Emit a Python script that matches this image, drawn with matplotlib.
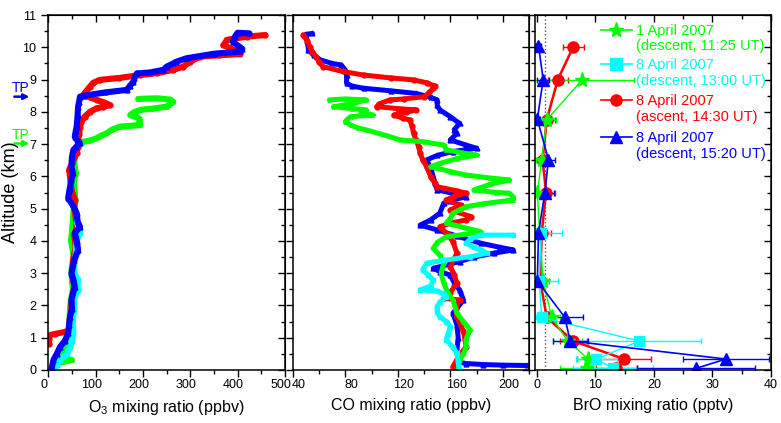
import matplotlib.pyplot as plt
from matplotlib.ticker import MultipleLocator, NullFormatter
from matplotlib.lines import Line2D
import matplotlib.transforms as mtransforms

plt.rcParams['font.family'] = ['Liberation Sans', 'DejaVu Sans']
plt.rcParams['mathtext.fontset'] = 'custom'
plt.rcParams['mathtext.rm'] = 'Liberation Sans'
plt.rcParams['mathtext.it'] = 'Liberation Sans:italic'

GREEN, CYAN, RED, BLUE = '#00ff00', '#00ffff', '#ff0000', '#0000ff'

# ---- O3 profiles (altitude km, ozone ppbv) ----
o3_green_alt = [8.40, 8.42, 8.38, 8.31, 8.22, 8.16, 8.10, 8.06, 7.98, 7.90, 7.82, 7.75, 7.65, 7.59,
                7.54, 7.45, 7.33, 7.25, 7.18, 7.10, 7.07, 6.98, 6.92, 6.70, 6.40, 6.10, 5.80, 5.50,
                5.20, 4.90, 4.60, 4.30, 4.00, 3.70, 3.40, 3.10, 2.80, 2.50, 2.20, 1.90, 1.60, 1.30,
                1.10, 0.90, 0.72, 0.55, 0.42, 0.35, 0.31, 0.27, 0.20, 0.10, 0.02]
o3_green_val = [190, 230, 258, 264, 255, 250, 220, 194, 180, 173, 190, 194, 192, 194,
                151, 135, 123, 110, 102, 85, 74, 65, 60, 57, 55, 58, 54, 56,
                57, 53, 52, 50, 48, 52, 54, 49, 50, 52, 48, 46, 45, 46,
                48, 42, 40, 30, 24, 32, 50, 36, 16, 11, 6]

o3_cyan_alt = [4.60, 4.40, 4.24, 4.00, 3.60, 3.30, 3.00, 2.80, 2.48, 2.20, 1.90, 1.60, 1.30, 1.14,
               0.90, 0.72, 0.50, 0.30, 0.15, 0.05]
o3_cyan_val = [60, 64, 66, 60, 58, 55, 55, 62, 62, 55, 55, 52, 52, 53,
               50, 46, 40, 25, 18, 14]

o3_red_alt = [10.38, 10.33, 10.25, 10.23, 10.10, 10.07, 9.90, 9.79, 9.75, 9.71, 9.55, 9.40, 9.30,
              9.20, 9.14, 9.05, 8.99, 8.90, 8.78, 8.60, 8.52, 8.45, 8.37, 8.28, 8.21, 8.15, 8.11,
              8.00, 7.85, 7.70, 7.54, 7.30, 7.13, 6.90, 6.72, 6.40, 6.20, 5.99, 5.58, 5.27, 5.00,
              4.70, 4.40, 4.20, 3.80, 3.40, 3.00, 2.60, 2.20, 1.80, 1.50, 1.25, 1.18, 1.12, 1.08,
              0.95, 0.82]
o3_red_val = [458, 420, 385, 377, 372, 370, 395, 405, 360, 320, 300, 285, 264,
              230, 194, 150, 109, 95, 88, 78, 74, 88, 102, 120, 130, 115, 102,
              88, 77, 70, 67, 65, 63, 62, 60, 50, 44, 46, 49, 56, 55,
              58, 60, 55, 58, 52, 50, 55, 50, 48, 45, 48, 35, 15, 2,
              1, 2]

o3_blue_alt = [10.43, 10.45, 10.35, 10.17, 9.95, 9.87, 9.80, 9.66, 9.55, 9.50, 9.40, 9.30, 9.22,
               9.19, 9.05, 8.93, 8.80, 8.68, 8.60, 8.50, 8.47, 8.30, 8.16, 7.90, 7.54, 7.40, 7.23,
               7.10, 7.02, 6.90, 6.82, 6.60, 6.30, 6.10, 5.89, 5.60, 5.32, 5.10, 4.86, 4.60, 4.44,
               4.24, 4.00, 3.72, 3.40, 3.00, 2.80, 2.58, 2.17, 1.90, 1.65, 1.40, 1.14, 0.90, 0.72,
               0.50, 0.31, 0.05]
o3_blue_val = [425, 400, 395, 390, 410, 405, 350, 292, 270, 264, 250, 243, 215,
               187, 182, 180, 172, 166, 120, 75, 67, 65, 63, 62, 60, 58, 56,
               62, 67, 58, 53, 50, 49, 52, 49, 45, 42, 52, 60, 62, 67,
               56, 60, 63, 55, 49, 53, 56, 49, 50, 46, 44, 42, 35, 25,
               18, 11, 7]

# ---- CO profiles (altitude km, CO ppbv) ----
co_blue_alt = [10.43, 10.40, 10.20, 9.92, 9.75, 9.61, 9.50, 9.45, 9.30, 9.14, 8.89, 8.80, 8.73,
               8.65, 8.57, 8.45, 8.37, 8.20, 8.06, 7.85, 7.64, 7.45, 7.33, 7.13, 6.97, 6.87, 6.77,
               6.65, 6.51, 6.25, 5.99, 5.80, 5.58, 5.45, 5.37, 5.25, 5.17, 4.86, 4.65, 4.49, 4.34,
               4.15, 3.93, 3.80, 3.72, 3.62, 3.50, 3.36, 3.15, 3.05, 2.94, 2.70, 2.48, 2.17, 1.76,
               1.40, 1.00, 0.60, 0.25, 0.20, 0.17, 0.15, 0.14]
co_blue_val = [55, 50, 51, 52, 56, 61, 70, 77, 80, 81, 81, 85, 94,
               115, 134, 145, 150, 150, 152, 160, 167, 163, 165, 160, 172, 180, 162,
               150, 142, 145, 147, 148, 150, 165, 172, 160, 155, 152, 145, 137, 150,
               165, 183, 198, 208, 193, 178, 167, 147, 152, 160, 163, 167, 170, 162,
               165, 166, 165, 166, 172, 185, 200, 218]

co_red_alt = [10.38, 10.20, 10.02, 9.85, 9.71, 9.55, 9.40, 9.25, 9.14, 9.05, 8.99, 8.90, 8.80,
              8.73, 8.60, 8.47, 8.40, 8.37, 8.25, 8.16, 8.10, 8.06, 7.98, 7.90, 7.80, 7.75, 7.55,
              7.33, 7.13, 6.90, 6.72, 6.51, 6.30, 5.99, 5.80, 5.68, 5.55, 5.48, 5.38, 5.27, 5.11,
              4.96, 4.75, 4.65, 4.55, 4.44, 4.20, 3.98, 3.62, 3.20, 2.95, 2.69, 2.40, 2.22, 2.17,
              1.90, 1.65, 1.20, 0.72, 0.40, 0.10]
co_red_val = [48, 51, 53, 55, 58, 60, 63, 78, 94, 115, 132, 142, 148,
              147, 144, 140, 125, 114, 106, 104, 120, 134, 126, 117, 124, 129, 131,
              132, 134, 136, 137, 139, 142, 145, 148, 150, 165, 172, 163, 157, 168,
              160, 176, 172, 160, 152, 158, 162, 165, 160, 163, 165, 160, 155, 167,
              164, 165, 170, 172, 166, 162]

co_green_alt = [8.37, 8.40, 8.37, 8.25, 8.16, 8.10, 8.06, 7.95, 7.90, 7.85, 7.70, 7.59, 7.50,
                7.44, 7.30, 7.13, 7.07, 6.97, 6.82, 6.72, 6.66, 6.55, 6.40, 6.30, 6.15, 6.04, 5.95,
                5.89, 5.75, 5.58, 5.50, 5.48, 5.35, 5.27, 5.15, 5.06, 4.96, 4.86, 4.70, 4.55, 4.40,
                4.29, 4.20, 4.13, 3.95, 3.77, 3.55, 3.31, 3.00, 2.69, 2.40, 2.17, 1.76, 1.50, 1.24,
                0.95, 0.72, 0.50, 0.31, 0.05]
co_green_val = [68, 80, 96, 85, 71, 85, 96, 92, 101, 84, 80, 84, 90,
                96, 108, 122, 140, 155, 157, 170, 180, 165, 152, 145, 160, 172, 190,
                205, 190, 178, 195, 205, 208, 208, 185, 172, 167, 162, 160, 157, 172,
                183, 170, 157, 150, 147, 152, 155, 153, 155, 158, 162, 165, 170, 175,
                172, 172, 170, 167, 166]

co_cyan_alt = [4.18, 4.18, 4.05, 3.93, 3.80, 3.72, 3.62, 3.51, 3.40, 3.31, 3.10, 2.95, 2.79,
               2.60, 2.48, 2.45, 2.35, 2.27, 2.10, 1.96, 1.80, 1.65, 1.50, 1.34, 1.10, 0.93, 0.70,
               0.52, 0.25, 0.00]
co_cyan_val = [208, 183, 175, 172, 178, 183, 188, 175, 155, 142, 139, 143, 147,
               145, 137, 150, 155, 157, 152, 150, 150, 152, 157, 160, 158, 157, 162,
               165, 166, 167]

# ---- BrO retrievals (altitude km, BrO pptv, 1-sigma pptv) ----
bro_green_alt = [9.0, 7.75, 6.5, 5.5, 4.26, 2.76, 1.63, 0.9, 0.34, 0.05]
bro_green_val = [7.8, 1.7, 0.85, 0.1, 0.5, 1.1, 2.55, 5.3, 8.8, 8.5]
bro_green_err = [8.8, 1.6, 1.0, 1.0, 1.0, 1.0, 1.5, 2.5, 2.0, 4.5]

bro_cyan_alt = [4.26, 2.76, 1.63, 0.9, 0.34, 0.05]
bro_cyan_val = [0.8, 0.4, 0.85, 17.5, 10.2, 13.0]
bro_cyan_err = [3.5, 3.3, 1.0, 10.6, 3.5, 6.8]

bro_red_alt = [10.0, 9.0, 7.75, 6.5, 5.5, 4.26, 2.76, 1.63, 0.9, 0.34, 0.05]
bro_red_val = [6.2, 3.6, 1.7, 1.0, 1.6, 0.85, 0.6, 1.7, 6.2, 14.9, 13.6]
bro_red_err = [1.8, 1.7, 1.5, 1.0, 1.5, 1.5, 1.0, 1.3, 2.3, 4.6, 3.5]

bro_blue_alt = [10.05, 9.0, 7.77, 6.52, 5.5, 4.26, 2.76, 1.63, 0.9, 0.34, 0.05]
bro_blue_val = [0.3, 1.1, 0.1, 2.0, 1.4, 0.3, 0.1, 4.8, 5.7, 32.3, 27.2]
bro_blue_err = [0.5, 1.0, 0.5, 1.2, 1.5, 1.0, 1.0, 3.1, 3.0, 7.3, 10.1]

bro_detection_limit = 1.4

legend_labels = ['1 April 2007\n(descent, 11:25 UT)',
                 '8 April 2007\n(descent, 13:00 UT)',
                 '8 April 2007\n(ascent, 14:30 UT)',
                 '8 April 2007\n(descent, 15:20 UT)']
legend_colors = [GREEN, CYAN, RED, BLUE]
legend_markers = ['*', 's', 'o', '^']

tp_alt = [8.47, 7.02]
tp_colors = [BLUE, GREEN]


def style_axis(ax, xlim, xmajor, xminor, ylabels=True):
    ax.set_xlim(*xlim)
    ax.set_ylim(0, 11)
    ax.xaxis.set_major_locator(MultipleLocator(xmajor))
    ax.xaxis.set_minor_locator(MultipleLocator(xminor))
    ax.yaxis.set_major_locator(MultipleLocator(1))
    ax.yaxis.set_minor_locator(MultipleLocator(0.5))
    ax.tick_params(which='major', direction='out', length=5, width=1, labelsize=9)
    ax.tick_params(which='minor', direction='out', length=3, width=1)
    ax.tick_params(axis='x', which='major', pad=1.5)
    if not ylabels:
        ax.yaxis.set_major_formatter(NullFormatter())
    for s in ax.spines.values():
        s.set_linewidth(1.1)
    # inward ticks on the top and right edges
    top = ax.secondary_xaxis('top')
    top.xaxis.set_major_locator(MultipleLocator(xmajor))
    top.xaxis.set_minor_locator(MultipleLocator(xminor))
    top.tick_params(which='major', direction='in', length=5, width=1, labeltop=False)
    top.tick_params(which='minor', direction='in', length=3, width=1)
    right = ax.secondary_yaxis('right')
    right.yaxis.set_major_locator(MultipleLocator(1))
    right.yaxis.set_minor_locator(MultipleLocator(0.5))
    right.tick_params(which='major', direction='in', length=5, width=1, labelright=False)
    right.tick_params(which='minor', direction='in', length=3, width=1)


def shift_xticklabels(ax, dx_px):
    offset = mtransforms.ScaledTranslation(dx_px / fig.dpi, 0, fig.dpi_scale_trans)
    for lab in ax.xaxis.get_majorticklabels():
        lab.set_transform(lab.get_transform() + offset)


fig = plt.figure(figsize=(7.81, 4.23), dpi=100)
ax1 = fig.add_axes([0.0618, 0.1253, 0.3031, 0.8392])
ax2 = fig.add_axes([0.3748, 0.1253, 0.3027, 0.8392])
ax3 = fig.add_axes([0.6850, 0.1253, 0.3022, 0.8392])

prof_kw = dict(lw=4.4, ms=3.5, solid_joinstyle='round', solid_capstyle='round')

# ozone
ax1.plot(o3_green_val, o3_green_alt, color=GREEN, marker='*', **prof_kw)
ax1.plot(o3_red_val, o3_red_alt, color=RED, marker='o', **prof_kw)
ax1.plot(o3_cyan_val, o3_cyan_alt, color=CYAN, marker='s', **prof_kw)
ax1.plot(o3_blue_val, o3_blue_alt, color=BLUE, marker='^', **prof_kw)
style_axis(ax1, (0, 500), 100, 50)
shift_xticklabels(ax1, -4)
ax1.set_xlabel('O$_3$ mixing ratio (ppbv)', fontsize=11.5, labelpad=5)
ax1.set_ylabel('Altitude (km)', fontsize=13)
ax1.yaxis.set_label_coords(-0.125, 0.5)

# tropopause markers left of the altitude axis
trans = mtransforms.blended_transform_factory(ax1.transAxes, ax1.transData)
for alt, c in zip(tp_alt, tp_colors):
    ax1.annotate('', xy=(-0.068, alt), xytext=(-0.155, alt), xycoords=trans, textcoords=trans,
                 arrowprops=dict(arrowstyle='-|>', color=c, lw=1.8, mutation_scale=8),
                 annotation_clip=False)
    ax1.text(-0.116, alt + 0.27, 'TP', color=c, fontsize=10, ha='center', va='center',
             transform=trans)

# carbon monoxide
co_kw = dict(prof_kw, lw=3.6)
ax2.plot(co_blue_val, co_blue_alt, color=BLUE, marker='^', **co_kw)
ax2.plot(co_red_val, co_red_alt, color=RED, marker='o', **co_kw)
ax2.plot(co_green_val, co_green_alt, color=GREEN, marker='*', **co_kw)
ax2.plot(co_cyan_val, co_cyan_alt, color=CYAN, marker='s', **co_kw)
style_axis(ax2, (40, 220), 40, 20, ylabels=False)
shift_xticklabels(ax2, 6)
ax2.set_xlabel('CO mixing ratio (ppbv)', fontsize=11.5, labelpad=5)

# BrO
ax3.axvline(bro_detection_limit, color='#555555', ls=':', lw=1)
eb_kw = dict(capsize=2.5, elinewidth=1, capthick=1)
ax3.errorbar(bro_red_val, bro_red_alt, xerr=bro_red_err, color=RED, marker='o', ms=8,
             lw=1.8, **eb_kw)
ax3.errorbar(bro_green_val, bro_green_alt, xerr=bro_green_err, color=GREEN, marker='*', ms=11,
             lw=1, **eb_kw)
ax3.errorbar(bro_cyan_val, bro_cyan_alt, xerr=bro_cyan_err, color=CYAN, marker='s', ms=7,
             lw=1, **eb_kw)
ax3.errorbar(bro_blue_val, bro_blue_alt, xerr=bro_blue_err, color=BLUE, marker='^', ms=8,
             lw=1.2, **eb_kw)
style_axis(ax3, (-0.3, 40), 10, 5, ylabels=False)
ax3.set_xlabel('BrO mixing ratio (pptv)', fontsize=11.5, labelpad=5)

# legend drawn entry by entry so the symbol sits on the date line
handle_rows = [0.958, 0.862, 0.761, 0.656]
text_rows = [0.934, 0.837, 0.735, 0.631]
for yh, yt, lab, c, m in zip(handle_rows, text_rows, legend_labels, legend_colors,
                             legend_markers):
    ms = 11 if m == '*' else 8
    ax3.add_line(Line2D([0.28, 0.41], [yh, yh], color=c, lw=1.2, transform=ax3.transAxes,
                        clip_on=False))
    ax3.add_line(Line2D([0.345], [yh], color=c, marker=m, ms=ms, transform=ax3.transAxes,
                        clip_on=False))
    ax3.text(0.43, yt, lab, color=c, fontsize=10.5, transform=ax3.transAxes,
             ha='left', va='center', linespacing=1.17)

fig.savefig('out.png', dpi=100)
